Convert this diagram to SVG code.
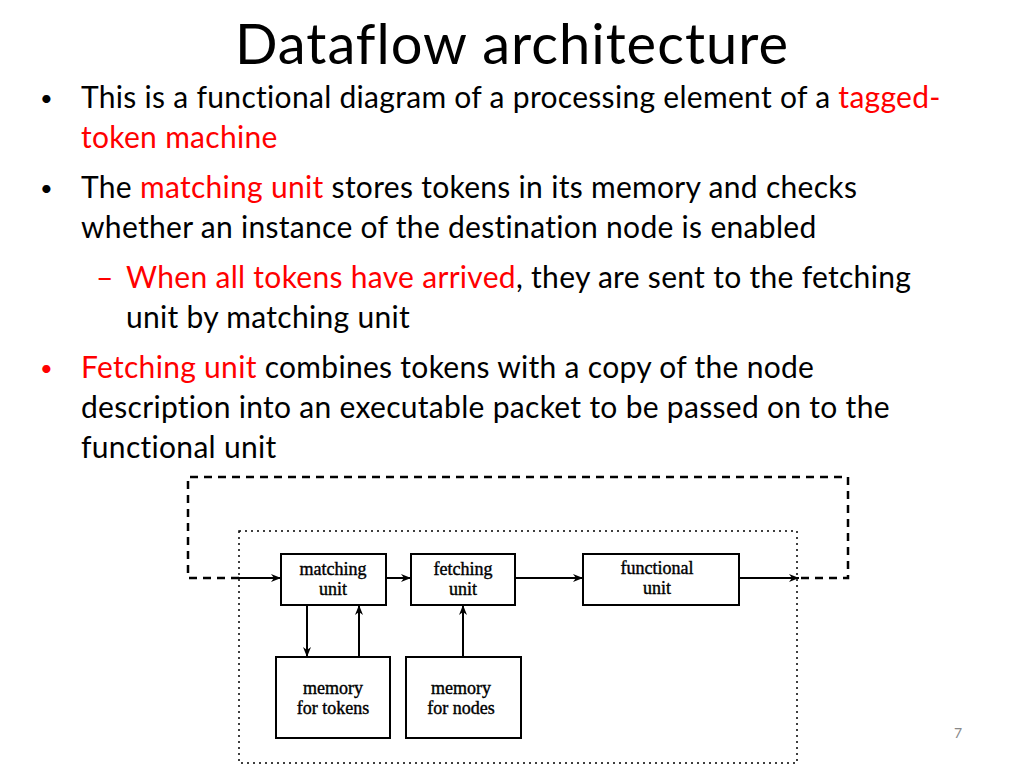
<svg xmlns="http://www.w3.org/2000/svg" width="1024" height="768" viewBox="0 0 1024 768">
<style>
.t{font-family:Lato,"Open Sans",sans-serif;font-size:30px;letter-spacing:0.3px;fill:#000}
.b{font-size:22px}
.r{fill:#ff0000}
.n{font-family:"Liberation Serif",serif;font-size:18px;text-anchor:middle;fill:#000;stroke:#000;stroke-width:0.4}
.box{fill:#fff;stroke:#000;stroke-width:2}
.ln{stroke:#000;stroke-width:2;fill:none}
.ds{stroke:#000;stroke-width:2.5;fill:none;stroke-dasharray:8,6}
</style>
<defs><marker id="a" markerWidth="10" markerHeight="8" refX="10" refY="4" orient="auto" markerUnits="userSpaceOnUse"><path d="M0,0 L10,4 L0,8 L3,4 z" fill="#000"/></marker></defs>
<rect width="1024" height="768" fill="#fff"/>
<text x="512" y="64" text-anchor="middle" style="font-family:Lato,sans-serif;font-size:56px;letter-spacing:1px">Dataflow architecture</text>
<g class="t">
<text x="40" y="106" class="b">•</text>
<text x="81" y="108">This is a functional diagram of a processing element of a <tspan class="r">tagged-</tspan></text>
<text x="81" y="148" class="r">token machine</text>
<text x="40" y="196" class="b">•</text>
<text x="81" y="198">The <tspan class="r">matching unit</tspan> stores tokens in its memory and checks</text>
<text x="81" y="238">whether an instance of the destination node is enabled</text>
<text x="96" y="288" class="r">–</text>
<text x="126" y="288"><tspan class="r">When all tokens have arrived</tspan>, they are sent to the fetching</text>
<text x="126" y="328">unit by matching unit</text>
<text x="40" y="376" class="r b">•</text>
<text x="81" y="378"><tspan class="r">Fetching unit</tspan> combines tokens with a copy of the node</text>
<text x="81" y="418">description into an executable packet to be passed on to the</text>
<text x="81" y="458">functional unit</text>
</g>
<rect x="239" y="531" width="558" height="232" fill="none" stroke="#000" stroke-width="1.5" stroke-dasharray="2,4"/>
<g id="connectors">
<path class="ds" d="M239,578 L188,578 L188,477 L848,477 L848,578 L797,578"/>
<line class="ln" x1="239" y1="578" x2="281" y2="578" marker-end="url(#a)"/>
<line class="ln" x1="386" y1="578" x2="411" y2="578" marker-end="url(#a)"/>
<line class="ln" x1="515" y1="578" x2="583" y2="578" marker-end="url(#a)"/>
<line class="ln" x1="739" y1="578" x2="799" y2="578" marker-end="url(#a)"/>
<line class="ln" x1="307" y1="605" x2="307" y2="657" marker-end="url(#a)"/>
<line class="ln" x1="359" y1="657" x2="359" y2="605" marker-end="url(#a)"/>
<line class="ln" x1="463" y1="657" x2="463" y2="605" marker-end="url(#a)"/>
</g>
<g id="matching"><rect class="box" x="281" y="554" width="105" height="51"/><text class="n" x="333" y="575">matching</text><text class="n" x="333" y="595">unit</text></g>
<g id="fetching"><rect class="box" x="411" y="554" width="104" height="51"/><text class="n" x="463" y="575">fetching</text><text class="n" x="463" y="595">unit</text></g>
<g id="functional"><rect class="box" x="583" y="554" width="156" height="51"/><text class="n" x="657" y="574">functional</text><text class="n" x="657" y="594">unit</text></g>
<g id="memtokens"><rect class="box" x="276" y="657" width="114" height="81"/><text class="n" x="333" y="694">memory</text><text class="n" x="333" y="714">for tokens</text></g>
<g id="memnodes"><rect class="box" x="406" y="657" width="115" height="81"/><text class="n" x="461" y="694">memory</text><text class="n" x="461" y="714">for nodes</text></g>
<text x="958" y="738" text-anchor="middle" style="font-family:Lato,sans-serif;font-size:14px;fill:#888">7</text>
</svg>
